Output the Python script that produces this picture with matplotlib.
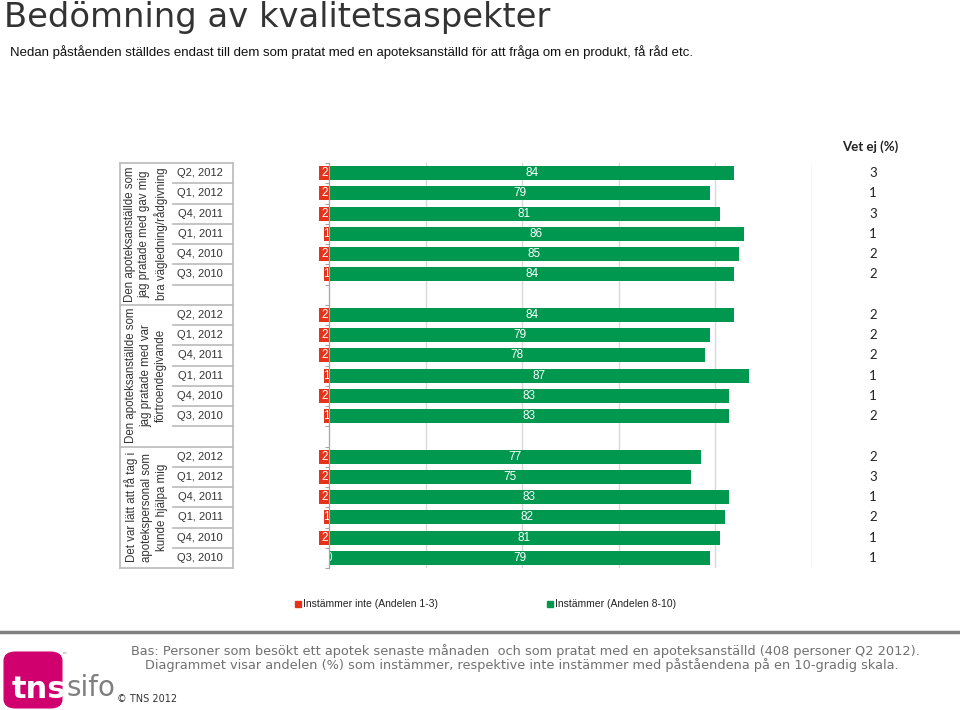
import numpy as np
import matplotlib
matplotlib.use('Agg')
import matplotlib.pyplot as plt
from matplotlib import font_manager as fm
from matplotlib.transforms import blended_transform_factory
from matplotlib.patches import Rectangle, FancyBboxPatch
from matplotlib.lines import Line2D

# data
quarters = ['Q2, 2012', 'Q1, 2012', 'Q4, 2011', 'Q1, 2011', 'Q4, 2010', 'Q3, 2010']
statements = ['Den apoteksanställde som\njag pratade med gav mig\nbra vägledning/rådgivning',
              'Den apoteksanställde som\njag pratade med var\nförtroendegivande',
              'Det var lätt att få tag i\napotekspersonal som\nkunde hjälpa mig']
agree = [[84, 79, 81, 86, 85, 84],
         [84, 79, 78, 87, 83, 83],
         [77, 75, 83, 82, 81, 79]]
disagree = [[2, 2, 2, 1, 2, 1],
            [2, 2, 2, 1, 2, 1],
            [2, 2, 2, 1, 2, 0]]
dont_know = [[3, 1, 3, 1, 2, 2],
             [2, 2, 2, 1, 1, 2],
             [2, 3, 1, 2, 1, 1]]

GREEN = '#00984F'
RED = '#E5321B'
TXT = '#333333'


def pick_font(names, default='DejaVu Sans'):
    for n in names:
        try:
            fm.findfont(fm.FontProperties(family=n), fallback_to_default=False)
            return n
        except Exception:
            pass
    return default


narrow = pick_font(['Liberation Sans Narrow', 'Liberation Sans'])
arial = pick_font(['Liberation Sans'])
calib = pick_font(['Lato', 'Open Sans'])

W, H = 960, 710
fig = plt.figure(figsize=(W / 100, H / 100), dpi=100)


def fx(px):
    return px / W


def fy(py):
    return 1 - py / H


# row slots: 6 rows per group, one empty slot between groups
slots = []
for g in range(3):
    slots.append([g * 7 + i for i in range(6)])

top, bot = 163, 568
ax = fig.add_axes([fx(318), fy(bot), fx(811.5) - fx(318), fy(top) - fy(bot)])
ax.set_xlim(-2.3, 100)
ax.set_ylim(19.5, -0.5)

for g in range(3):
    y = np.array(slots[g])
    ax.barh(y, agree[g], height=0.69, color=GREEN, zorder=2)
    ax.barh(y, [-d for d in disagree[g]], height=0.69, color=RED, zorder=2)
    for yy, a, d in zip(y, agree[g], disagree[g]):
        ax.text(a / 2, yy, str(a), color='white', ha='center', va='center',
                fontsize=8.5, family=arial, zorder=3)
        ax.text(-d / 2 if d else 0, yy, str(d), color='white', ha='center', va='center',
                fontsize=8.5, family=arial, zorder=3, clip_on=False)

ax.set_xticks([0, 20, 40, 60, 80, 100])
ax.grid(axis='x', color='#D9D9D9', lw=1, zorder=0)
ax.set_yticks(np.arange(-0.5, 20, 1))
ax.tick_params(axis='y', length=3, width=0.8, color='#A6A6A6', labelleft=False)
ax.tick_params(axis='x', length=0, labelbottom=False)
for s in ['top', 'right', 'bottom']:
    ax.spines[s].set_visible(False)
ax.spines['left'].set_position(('data', 0))
ax.spines['left'].set_color('#A6A6A6')
ax.spines['left'].set_zorder(4)

# don't know column
tr = blended_transform_factory(fig.transFigure, ax.transData)
ax.text(fx(870), -1.3, 'Vet ej (%)', transform=tr, ha='center', va='center',
        fontsize=9.5, fontweight='bold', family=calib, color='#222222')
for g in range(3):
    for yy, v in zip(slots[g], dont_know[g]):
        ax.text(fx(873), yy, str(v), transform=tr, ha='center', va='center',
                fontsize=9.5, family=calib, color='#222222')

# left table
axt = fig.add_axes([fx(120), fy(bot), fx(233) - fx(120), fy(top) - fy(bot)])
axt.set_xlim(120, 233)
axt.set_ylim(19.5, -0.5)
axt.axis('off')
line_kw = dict(color='#BFBFBF', lw=1.3, clip_on=False)
for yl in [-0.5, 6.5, 13.5, 19.5]:
    axt.plot([120, 233], [yl, yl], **line_kw)
for g in range(3):
    for yy in slots[g]:
        if yy + 0.5 not in (6.5, 13.5, 19.5):
            axt.plot([173, 233], [yy + 0.5, yy + 0.5], **line_kw)
        axt.text(200, yy, quarters[yy - slots[g][0]], ha='center', va='center',
                 fontsize=8, family=arial, color=TXT)
axt.plot([120, 120], [-0.5, 19.5], **line_kw)
axt.plot([233, 233], [-0.5, 19.5], **line_kw)
centers = [3.0, 10.0, 16.5]
for g in range(3):
    axt.text(146, centers[g], statements[g], rotation=90, ha='center', va='center',
             multialignment='center', fontsize=8.3, family=arial, color=TXT,
             linespacing=1.3)

# titles
fig.text(fx(4), fy(18), 'Bedömning av kvalitetsaspekter', fontsize=24.3,
         color=TXT, va='center', ha='left', family='DejaVu Sans')
fig.text(fx(10), fy(52), 'Nedan påståenden ställdes endast till dem som pratat med en '
         'apoteksanställd för att fråga om en produkt, få råd etc.',
         fontsize=9.5, color='#111111', va='center', ha='left', family=arial)

# legend
fig.patches.append(Rectangle((fx(295), fy(607)), fx(6), 6 / H, color=RED,
                             transform=fig.transFigure))
fig.text(fx(303), fy(604), 'Instämmer inte (Andelen 1-3)', fontsize=7.5,
         family=narrow, color='#222222', va='center')
fig.patches.append(Rectangle((fx(547), fy(607)), fx(6), 6 / H, color=GREEN,
                             transform=fig.transFigure))
fig.text(fx(555), fy(604), 'Instämmer (Andelen 8-10)', fontsize=7.5,
         family=narrow, color='#222222', va='center')

# footer
fig.lines.append(Line2D([0, 1], [fy(632), fy(632)], color='#808080', lw=2.5,
                        transform=fig.transFigure))
fig.text(fx(525), fy(651), 'Bas: Personer som besökt ett apotek senaste månaden  och som '
         'pratat med en apoteksanställd (408 personer Q2 2012).', ha='center',
         va='center', fontsize=9.25, color='#707070', family='DejaVu Sans')
fig.text(fx(522), fy(665), 'Diagrammet visar andelen (%) som instämmer, respektive inte '
         'instämmer med påståendena på en 10-gradig skala.', ha='center',
         va='center', fontsize=9.25, color='#707070', family='DejaVu Sans')

# logo
fig.patches.append(FancyBboxPatch((fx(8), fy(705)), fx(50), 50 / H,
                                  boxstyle='round,pad=0.004,rounding_size=0.012',
                                  color='#D0006F', transform=fig.transFigure))
fig.text(fx(12), fy(689), 'tns', fontsize=22, fontweight='bold', color='white',
         va='center', ha='left', family='DejaVu Sans')
fig.text(fx(67), fy(688), 'sifo', fontsize=20, color='#7F7F7F', va='center',
         ha='left', family='DejaVu Sans')
fig.text(fx(61), fy(656), '™', fontsize=4, color='#7F7F7F', va='center', ha='left')
fig.text(fx(117), fy(699), '© TNS 2012', fontsize=7, color='#333333', va='center',
         ha='left', family='DejaVu Sans')

fig.savefig('out.png', dpi=100)
